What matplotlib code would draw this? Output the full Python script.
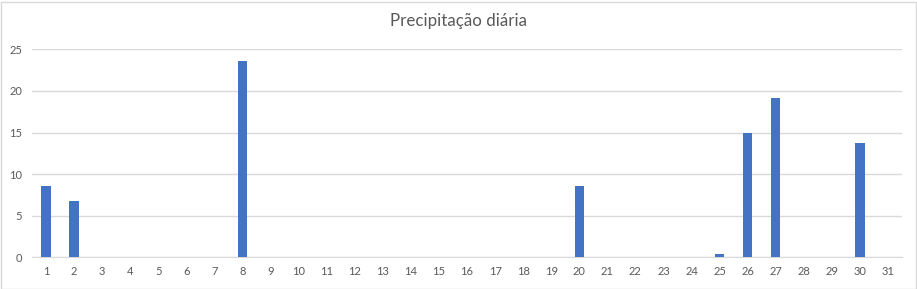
import matplotlib.pyplot as plt
from matplotlib.patches import Rectangle

days = list(range(1, 32))
rain = [8.6, 6.8, 0, 0, 0, 0, 0, 23.6, 0, 0, 0, 0, 0, 0, 0, 0, 0, 0, 0, 8.6,
        0, 0, 0, 0, 0.4, 15.0, 19.2, 0, 0, 13.7, 0]
yticks = [0, 5, 10, 15, 20, 25]

plt.rcParams['font.family'] = ['Lato', 'DejaVu Sans']

fig = plt.figure(figsize=(9.17, 2.89), dpi=100)
ax = fig.add_axes([32/917, 1-257.3/289, 870/917, 208/289])

ax.bar(days, rain, width=0.33, color='#4472C4', zorder=3)
ax.set_xlim(0.5, 31.5)
ax.set_ylim(0, 25)
ax.set_xticks(days)
ax.set_yticks(yticks)
ax.grid(axis='y', color='#D9D9D9', linewidth=1, zorder=0)
for s in ['top', 'right', 'left']:
    ax.spines[s].set_visible(False)
ax.spines['bottom'].set_color('#D9D9D9')
ax.tick_params(length=0, labelsize=8, labelcolor='#595959')
ax.tick_params(axis='x', pad=6)
ax.tick_params(axis='y', pad=7)

fig.text(0.5, 1-21/289, 'Precipitação diária', ha='center', va='center',
         fontsize=12.2, color='#595959')

fig.patches.append(Rectangle((0.5/917, 0.5/289), 915/917, 287/289, transform=fig.transFigure,
                             fill=False, edgecolor='#D9D9D9', linewidth=1))

fig.savefig('out.png', dpi=100)
